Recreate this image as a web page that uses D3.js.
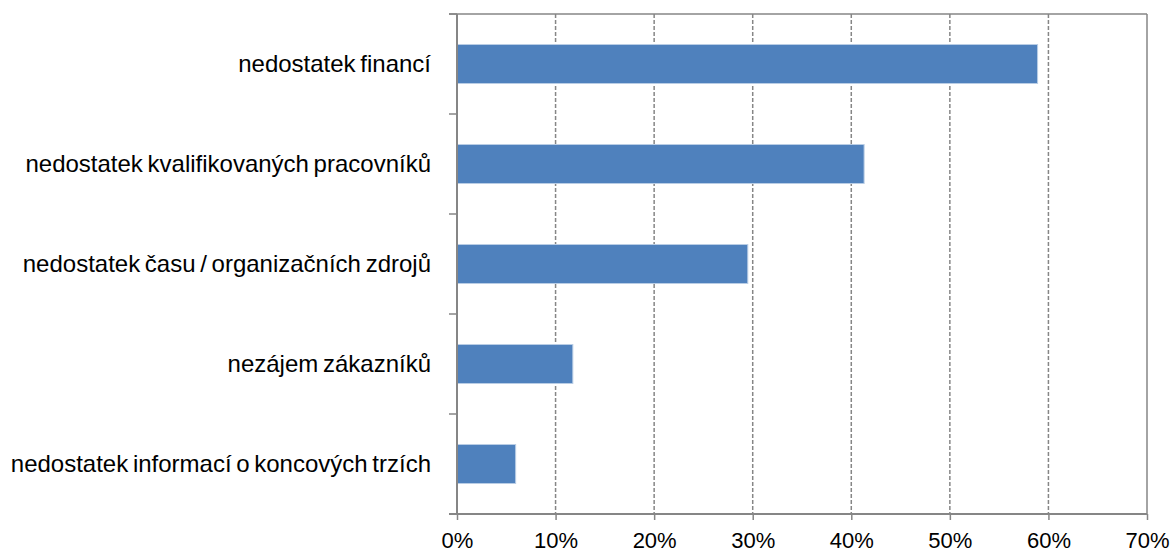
<!DOCTYPE html>
<html>
<head>
<meta charset="utf-8">
<script src="https://cdn.jsdelivr.net/npm/d3@7"></script>
<style>
  body { margin: 0; background: #fff; }
  svg text { font-family: "Liberation Sans", Arial, sans-serif; fill: #000; }
</style>
</head>
<body>
<svg id="chart" width="1173" height="553"></svg>
<script>
const categories = [
    "nedostatek financí",
    "nedostatek kvalifikovaných pracovníků",
    "nedostatek času / organizačních zdrojů",
    "nezájem zákazníků",
    "nedostatek informací o koncových trzích"
];
const values = [58.9, 41.3, 29.5, 11.75, 5.95];
const xTicks = [0, 10, 20, 30, 40, 50, 60, 70];

const data = categories.map((c, i) => ({ cat: c, val: values[i] }));

const width = 1173, height = 553;
const margin = { top: 14, right: 26, bottom: 39, left: 457 };
const svg = d3.select("#chart");

const x = d3.scaleLinear()
    .domain([0, 70])
    .range([margin.left, width - margin.right]);

const y = d3.scaleBand()
    .domain(categories)
    .range([margin.top, height - margin.bottom])
    .paddingInner(0.61)
    .paddingOuter(0.305);

const axisColor = "#868686";

// dashed gridlines
svg.append("g")
    .selectAll("line")
    .data(xTicks.slice(1, -1))
    .enter().append("line")
    .attr("x1", d => x(d)).attr("x2", d => x(d))
    .attr("y1", margin.top).attr("y2", height - margin.bottom)
    .attr("stroke", axisColor)
    .attr("stroke-width", 1.5)
    .attr("stroke-dasharray", "4,2");

// plot border top and right
svg.append("line")
    .attr("x1", margin.left - 8).attr("x2", x(70))
    .attr("y1", margin.top).attr("y2", margin.top)
    .attr("stroke", axisColor).attr("stroke-width", 1.5);
svg.append("line")
    .attr("x1", x(70)).attr("x2", x(70))
    .attr("y1", margin.top).attr("y2", height - margin.bottom)
    .attr("stroke", axisColor).attr("stroke-width", 1.5);

// bars
svg.append("g")
    .selectAll("rect")
    .data(data)
    .enter().append("rect")
    .attr("x", x(0))
    .attr("y", d => y(d.cat))
    .attr("width", d => x(d.val) - x(0))
    .attr("height", y.bandwidth())
    .attr("fill", "#4F81BD")
    .attr("stroke", "#B9CDE5")
    .attr("stroke-width", 1);

// category axis: line, ticks between bands
const boundaries = d3.range(categories.length + 1)
    .map(i => margin.top + i * y.step());
svg.append("line")
    .attr("x1", margin.left).attr("x2", margin.left)
    .attr("y1", margin.top).attr("y2", height - margin.bottom)
    .attr("stroke", axisColor).attr("stroke-width", 2);
svg.append("g")
    .selectAll("line")
    .data(boundaries)
    .enter().append("line")
    .attr("x1", margin.left - 8).attr("x2", margin.left)
    .attr("y1", d => d).attr("y2", d => d)
    .attr("stroke", axisColor).attr("stroke-width", 1.5);

svg.append("g")
    .selectAll("text")
    .data(categories)
    .enter().append("text")
    .attr("x", margin.left - 26)
    .attr("y", d => y(d) + y.bandwidth() / 2)
    .attr("dy", "0.35em")
    .attr("text-anchor", "end")
    .attr("font-size", "24px")
    .attr("word-spacing", "-2px")
    .text(d => d);

// value axis
const xAxis = svg.append("g")
    .attr("transform", `translate(0,${height - margin.bottom})`)
    .call(d3.axisBottom(x).tickValues(xTicks).tickSize(6).tickPadding(12)
        .tickFormat(d => d + "%"));
xAxis.select(".domain").remove();
xAxis.selectAll(".tick line").attr("stroke", axisColor).attr("stroke-width", 1.5);
xAxis.selectAll("text").attr("font-size", "22px").attr("font-family", "Liberation Sans, Arial, sans-serif");
svg.append("line")
    .attr("x1", margin.left - 8).attr("x2", x(70))
    .attr("y1", height - margin.bottom).attr("y2", height - margin.bottom)
    .attr("stroke", axisColor).attr("stroke-width", 2);
</script>
</body>
</html>
